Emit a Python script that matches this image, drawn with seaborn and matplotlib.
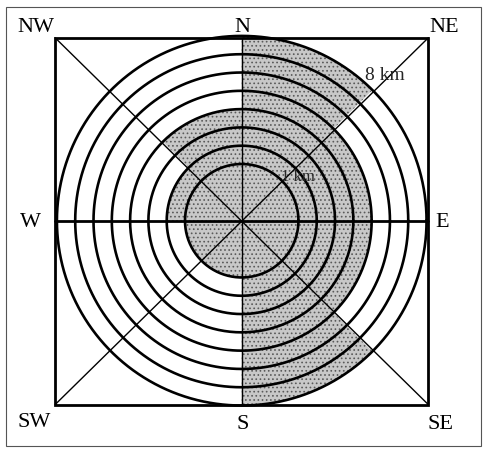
import numpy as np
import pandas as pd
import matplotlib
matplotlib.use("Agg")
import matplotlib.pyplot as plt
from matplotlib.patches import Wedge, Rectangle
import seaborn as sns

# ---- data ----
ring_km = [1, 2, 3, 4, 5, 6, 7, 8]
sector_names = ["N-NE", "NE-E", "E-SE", "SE-S", "S-SW", "SW-W", "W-NW", "NW-N"]
sector_start_deg = [0, 45, 90, 135, 180, 225, 270, 315]   # compass bearing
sector_extent_km = [8, 5, 5, 8, 1, 1, 2, 4]
directions = ["N", "NE", "E", "SE", "S", "SW", "W", "NW"]
direction_deg = [0, 45, 90, 135, 180, 225, 270, 315]
ring_labels = {1: "1 km", 8: "8 km"}

# ---- layout ----
OFFSET = 2.1          # ring k drawn at radius k + OFFSET
def rad(km):
    return km + OFFSET

sns.set_style("white")
plt.rcParams["font.family"] = ["Liberation Serif", "DejaVu Serif"]
plt.rcParams["hatch.color"] = "#5a5a5a"
plt.rcParams["hatch.linewidth"] = 0.7

fig = plt.figure(figsize=(4.84, 4.55), dpi=100)
ax = fig.add_axes([0, 0, 1, 1])
ax.set_xlim(-13.21, 13.24)
ax.set_ylim(-12.80, 12.06)
ax.set_aspect("equal")
ax.axis("off")

# outer frame
ax.add_patch(Rectangle((-12.88, -12.31), 25.96, 23.99, fill=False,
                       edgecolor="#555555", lw=0.8))

# shaded sectors
for start, ext in zip(sector_start_deg, sector_extent_km):
    t1 = 90 - (start + 45)
    t2 = 90 - start
    ax.add_patch(Wedge((0, 0), rad(ext), t1, t2, facecolor="#c8c8c8",
                       edgecolor="#5a5a5a", lw=0, hatch="....", zorder=1))

# rings via seaborn
theta = np.linspace(0, 2 * np.pi, 361)
rows = []
for k in ring_km:
    r = rad(k)
    for t in theta:
        rows.append({"ring": k, "x": r * np.cos(t), "y": r * np.sin(t)})
rings = pd.DataFrame(rows)
sns.lineplot(data=rings, x="x", y="y", units="ring", estimator=None,
             sort=False, color="black", lw=1.9, ax=ax, zorder=3, legend=False)

# square & axes lines
HX, HY0, HY1 = 10.2, -10.05, 10.0
ax.add_patch(Rectangle((-HX, HY0), 2 * HX, HY1 - HY0, fill=False,
                       edgecolor="black", lw=2.0, zorder=4))
ax.plot([-HX, HX], [0, 0], color="black", lw=2.0, zorder=4)
ax.plot([0, 0], [HY0, HY1], color="black", lw=1.0, zorder=4)
ax.plot([-HX, HX], [HY0, HY1], color="black", lw=1.0, zorder=4)
ax.plot([-HX, HX], [HY1, HY0], color="black", lw=1.0, zorder=4)

# direction labels
label_pos = {
    "N": (0.05, 10.58), "NE": (11.05, 10.56), "E": (10.95, -0.10),
    "SE": (10.89, -11.11), "S": (0.07, -11.11), "SW": (-11.35, -11.0),
    "W": (-11.57, -0.07), "NW": (-11.24, 10.56),
}
for d in directions:
    x, y = label_pos[d]
    ax.text(x, y, d, ha="center", va="center", fontsize=16, color="black",
            zorder=5)

# ring labels
ax.text(6.74, 7.96, ring_labels[8], ha="left", va="center", fontsize=14,
        zorder=5)
ax.text(2.15, 2.39, ring_labels[1], ha="left", va="center", fontsize=12,
        zorder=5)

fig.savefig("out.png", dpi=100)
